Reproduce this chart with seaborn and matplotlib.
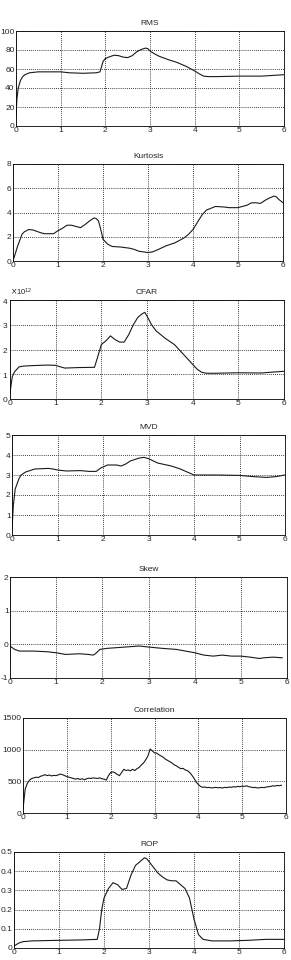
import matplotlib
matplotlib.use('Agg')
import matplotlib.pyplot as plt
import seaborn as sns
import numpy as np
import pandas as pd

sns.set_style("white")
plt.rcParams['font.family'] = ['Liberation Sans', 'DejaVu Sans']
plt.rcParams['axes.unicode_minus'] = False

# RMS
t_rms = [0, 0.02, 0.05, 0.1, 0.15, 0.2, 0.3, 0.5, 0.8, 1.0, 1.2, 1.5, 1.8, 1.88, 1.95, 2.0, 2.1,
         2.2, 2.3, 2.4, 2.5, 2.6, 2.7, 2.8, 2.9, 2.95, 3.0, 3.1, 3.2, 3.4, 3.6, 3.8, 3.9, 4.0,
         4.1, 4.2, 4.3, 4.5, 5.0, 5.5, 6.0]
rms = [10, 28, 40, 48, 52, 54, 56, 57, 57, 57, 56, 55.5, 56, 57, 68, 71, 73,
       74.5, 74, 72.5, 72, 74, 78, 80.5, 82, 81.5, 79, 76, 73.5, 70, 67, 63, 60.5, 58,
       55, 52.5, 52, 52, 52.5, 52.5, 54]

# Kurtosis
t_kurt = [0, 0.1, 0.2, 0.25, 0.35, 0.45, 0.6, 0.7, 0.9, 1.0, 1.1, 1.2, 1.3, 1.4, 1.5, 1.6, 1.7,
          1.8, 1.85, 1.9, 1.95, 2.0, 2.1, 2.2, 2.4, 2.6, 2.7, 2.8, 3.0, 3.1, 3.2, 3.4, 3.6, 3.8,
          3.9, 4.0, 4.1, 4.2, 4.3, 4.4, 4.5, 4.7, 4.8, 5.0, 5.1, 5.2, 5.3, 5.4, 5.5, 5.6, 5.7,
          5.8, 5.85, 5.9, 6.0]
kurt = [0, 1.2, 2.2, 2.4, 2.6, 2.55, 2.35, 2.25, 2.25, 2.5, 2.7, 2.95, 2.95, 2.85, 2.75, 3.0, 3.3,
        3.55, 3.5, 3.3, 2.6, 1.8, 1.4, 1.2, 1.15, 1.05, 0.95, 0.8, 0.7, 0.75, 0.9, 1.25, 1.5, 1.9,
        2.2, 2.6, 3.2, 3.8, 4.2, 4.35, 4.5, 4.45, 4.4, 4.4, 4.5, 4.6, 4.8, 4.8, 4.75, 5.0, 5.2,
        5.35, 5.3, 5.1, 4.8]

# CFAR (x 1e12)
t_cfar = [0, 0.05, 0.1, 0.2, 0.3, 0.5, 0.8, 1.0, 1.1, 1.2, 1.5, 1.85, 1.92, 2.0, 2.1, 2.2, 2.3,
          2.4, 2.5, 2.6, 2.7, 2.8, 2.9, 2.95, 3.0, 3.1, 3.2, 3.4, 3.6, 3.8, 4.0, 4.1, 4.2, 4.3,
          4.5, 5.0, 5.5, 5.7, 6.0]
cfar = [0.25, 0.9, 1.1, 1.3, 1.33, 1.35, 1.37, 1.36, 1.3, 1.25, 1.27, 1.28, 1.7, 2.2, 2.35, 2.55, 2.4,
        2.3, 2.3, 2.6, 3.0, 3.3, 3.45, 3.5, 3.35, 3.0, 2.75, 2.45, 2.2, 1.8, 1.4, 1.2, 1.08, 1.04,
        1.04, 1.06, 1.05, 1.08, 1.12]

# MVD
t_mvd = [0, 0.03, 0.07, 0.15, 0.2, 0.3, 0.5, 0.7, 0.8, 0.9, 1.0, 1.2, 1.5, 1.7, 1.85, 1.95, 2.1,
         2.3, 2.4, 2.5, 2.6, 2.8, 2.9, 3.0, 3.2, 3.5, 3.7, 3.9, 4.0, 4.5, 5.0, 5.3, 5.6, 5.8, 6.0]
mvd = [0.3, 1.5, 2.3, 2.8, 3.0, 3.15, 3.3, 3.32, 3.33, 3.3, 3.25, 3.2, 3.22, 3.18, 3.18, 3.35, 3.5,
       3.5, 3.45, 3.55, 3.7, 3.85, 3.88, 3.82, 3.6, 3.45, 3.3, 3.1, 3.0, 3.0, 2.98, 2.92, 2.88, 2.92, 3.0]

# Skew
t_skew = [0, 0.1, 0.2, 0.5, 0.8, 1.0, 1.2, 1.5, 1.7, 1.8, 1.85, 1.95, 2.1, 2.5, 2.8, 3.0, 3.3,
          3.6, 3.8, 4.0, 4.2, 4.4, 4.6, 4.8, 5.0, 5.2, 5.4, 5.5, 5.7, 5.9]
skew = [-0.05, -0.15, -0.2, -0.2, -0.22, -0.25, -0.3, -0.28, -0.3, -0.32, -0.28, -0.15, -0.12, -0.08,
        -0.05, -0.08, -0.12, -0.15, -0.2, -0.25, -0.32, -0.35, -0.32, -0.35, -0.35, -0.38, -0.42,
        -0.4, -0.38, -0.4]

# Correlation
t_corr = [0.00, 0.05, 0.10, 0.15, 0.20, 0.25, 0.30, 0.35, 0.40, 0.45, 0.50, 0.55, 0.60, 0.65,
          0.70, 0.75, 0.80, 0.85, 0.90, 0.95, 1.00, 1.05, 1.10, 1.15, 1.20, 1.25, 1.30, 1.35,
          1.40, 1.45, 1.50, 1.55, 1.60, 1.65, 1.70, 1.75, 1.80, 1.85, 1.90, 1.95, 2.00, 2.05,
          2.10, 2.15, 2.20, 2.25, 2.30, 2.35, 2.40, 2.45, 2.50, 2.55, 2.60, 2.65, 2.70, 2.75,
          2.80, 2.85, 2.90, 2.95, 3.00, 3.05, 3.10, 3.15, 3.20, 3.25, 3.30, 3.35, 3.40, 3.45,
          3.50, 3.55, 3.60, 3.65, 3.70, 3.75, 3.80, 3.85, 3.90, 3.95, 4.00, 4.05, 4.10, 4.15,
          4.20, 4.25, 4.30, 4.35, 4.40, 4.45, 4.50, 4.55, 4.60, 4.65, 4.70, 4.75, 4.80, 4.85,
          4.90, 4.95, 5.00, 5.05, 5.10, 5.15, 5.20, 5.25, 5.30, 5.35, 5.40, 5.45, 5.50, 5.55,
          5.60, 5.65, 5.70, 5.75, 5.80, 5.85, 5.90]
corr = [60, 380, 470, 520, 545, 555, 565, 560, 580, 590, 605, 590, 600, 585,
        595, 590, 600, 615, 605, 590, 575, 565, 555, 545, 535, 545, 530, 540,
        525, 540, 550, 545, 555, 550, 545, 555, 540, 535, 520, 590, 640, 650,
        635, 610, 590, 640, 690, 670, 680, 665, 690, 670, 700, 720, 760, 790,
        840, 900, 1010, 980, 950, 945, 920, 900, 880, 850, 830, 810, 790, 760,
        745, 720, 700, 705, 680, 670, 640, 600, 550, 490, 450, 420, 405, 410,
        400, 405, 395, 400, 405, 398, 402, 395, 405, 400, 410, 405, 415, 410,
        420, 415, 425, 420, 430, 415, 410, 400, 405, 395, 400, 405, 400, 410,
        415, 420, 430, 425, 435, 430, 440]

# ROP
t_rop = [0, 0.1, 0.2, 0.4, 1.0, 1.5, 1.85, 1.9, 1.95, 2.0, 2.1, 2.2, 2.3, 2.4, 2.5, 2.6, 2.7,
         2.8, 2.9, 2.95, 3.0, 3.1, 3.2, 3.3, 3.4, 3.5, 3.6, 3.7, 3.8, 3.9, 4.0, 4.1, 4.2, 4.4,
         4.8, 5.2, 5.6, 6.0]
rop = [0.01, 0.025, 0.033, 0.037, 0.04, 0.042, 0.045, 0.1, 0.2, 0.26, 0.31, 0.34, 0.33, 0.305,
       0.31, 0.38, 0.43, 0.45, 0.47, 0.465, 0.45, 0.42, 0.39, 0.37, 0.355, 0.35, 0.35, 0.33, 0.31,
       0.26, 0.15, 0.07, 0.045, 0.037, 0.037, 0.04, 0.045, 0.045]

x_ticks = [0, 1, 2, 3, 4, 5, 6]

panels = [
    ('RMS', t_rms, rms, 1, (0, 100), [0, 20, 40, 60, 80, 100]),
    ('Kurtosis', t_kurt, kurt, 1, (0, 8), [0, 2, 4, 6, 8]),
    ('CFAR', t_cfar, cfar, 1e12, (0, 4e12), [0, 1e12, 2e12, 3e12, 4e12]),
    ('MVD', t_mvd, mvd, 1, (0, 5), [0, 1, 2, 3, 4, 5]),
    ('Skew', t_skew, skew, 1, (-1, 2), [-1, 0, 1, 2]),
    ('Correlation', t_corr, corr, 1, (0, 1500), [0, 500, 1000, 1500]),
    ('ROP', t_rop, rop, 1, (0, 0.5), [0, 0.1, 0.2, 0.3, 0.4, 0.5]),
]

# axes boxes in pixels: left, right, top, bottom
boxes = [(16, 284, 31, 126), (13, 283, 164, 261), (10, 284, 300, 399), (12, 285, 435, 535),
         (10, 287, 577, 678), (23, 286, 718, 813), (14, 284, 852, 948)]

W, H = 291, 960
fig = plt.figure(figsize=(W / 100, H / 100), dpi=100)

for (title, t, y, scale, ylim, yticks), (l, r, top, bot) in zip(panels, boxes):
    ax = fig.add_axes([l / W, 1 - bot / H, (r - l) / W, (bot - top) / H])
    df = pd.DataFrame({'t': t, 'v': np.array(y) * scale})
    sns.lineplot(data=df, x='t', y='v', ax=ax, color='#1a1a1a', linewidth=0.8,
                 errorbar=None, estimator=None)
    ax.set_xlim(0, 6)
    ax.set_ylim(*ylim)
    ax.set_xticks(x_ticks)
    ax.set_yticks(yticks)
    ax.set_xlabel('')
    ax.set_ylabel('')
    ax.set_title(title, fontsize=6, pad=4)
    ax.grid(True, color='black', linestyle=(0, (1, 1.5)), linewidth=0.6)
    ax.tick_params(labelsize=6, direction='in', length=2, width=0.5, pad=1)
    for s in ax.spines.values():
        s.set_color('black')
        s.set_linewidth(0.6)
    if title == 'CFAR':
        ax.ticklabel_format(axis='y', style='sci', scilimits=(0, 0), useMathText=True)
        ax.yaxis.get_offset_text().set_fontsize(5.5)
    elif title == 'ROP':
        ax.set_yticklabels(['0', '0.1', '0.2', '0.3', '0.4', '0.5'])

fig.savefig('out.png', dpi=100)
